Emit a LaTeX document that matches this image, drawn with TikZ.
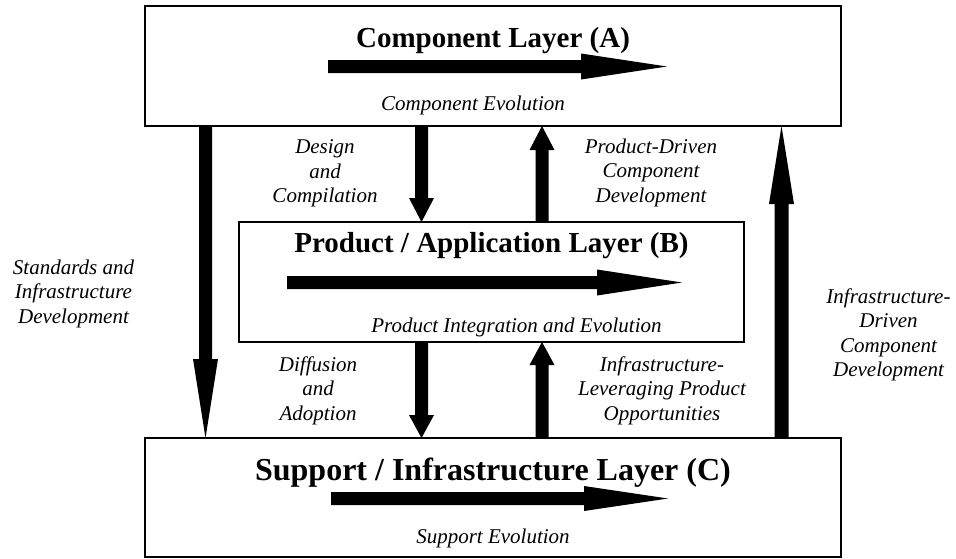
\documentclass[tikz,border=0pt]{standalone}
\usepackage{fontspec}
\setmainfont{Liberation Serif}
\usetikzlibrary{calc}
\tikzset{
  layer/.style={draw, line width=1.2pt, rectangle, inner sep=0pt, outer sep=0pt},
  ttl/.style={font=\fontsize{29}{33}\selectfont\bfseries, anchor=base, inner sep=0pt},
  lbl/.style={font=\fontsize{21}{24.5}\selectfont\itshape, align=center, inner sep=0pt},
}
% #1 start, #2 tip, #3 half shaft width, #4 head length, #5 half head width
\newcommand\fatarrow[5]{%
  \coordinate (hb) at ($(#2)!#4!(#1)$);
  \fill ($(#1)!#3!90:(#2)$) -- ($(hb)!#3!90:(#2)$) -- ($(hb)!#5!90:(#2)$) -- (#2)
        -- ($(hb)!#5!-90:(#2)$) -- ($(hb)!#3!-90:(#2)$) -- ($(#1)!#3!-90:(#2)$) -- cycle;
}
\begin{document}
\begin{tikzpicture}[x=1pt,y=-1pt]
\useasboundingbox (0,0) rectangle (956,558);
% layers
\node[layer, minimum width=696pt, minimum height=120pt] (A) at (493,66) {};
\node[layer, minimum width=505pt, minimum height=120pt] (B) at (491.5,282) {};
\node[layer, minimum width=696pt, minimum height=119pt] (C) at (493,497.5) {};
% titles
\node[ttl] (tA) at (493,47) {Component Layer (A)};
\node[ttl] (tB) at (491.5,252) {Product / Application Layer (B)};
\node[ttl, font=\fontsize{32}{36}\selectfont\bfseries] (tC) at (493,480) {Support / Infrastructure Layer (C)};
% evolution labels
\node[lbl, anchor=base] (eA) at (473,110) {Component Evolution};
\node[lbl, anchor=base] (eB) at (516.5,332) {Product Integration and Evolution};
\node[lbl, anchor=base] (eC) at (493,543) {Support Evolution};
% horizontal evolution arrows
\coordinate (a1) at (328,66.5); \coordinate (a2) at (667,66.5);
\fatarrow{a1}{a2}{6.5pt}{86pt}{13pt}
\coordinate (b1) at (287,282.5); \coordinate (b2) at (682,282.5);
\fatarrow{b1}{b2}{6.5pt}{85pt}{13pt}
\coordinate (c1) at (331,498.5); \coordinate (c2) at (668,498.5);
\fatarrow{c1}{c2}{6.5pt}{84pt}{12.5pt}
% vertical arrows
\coordinate (sL1) at ([xshift=60.5pt]A.south west);
\coordinate (sL2) at ([xshift=60.5pt]C.north west);
\fatarrow{sL1}{sL2}{6.5pt}{79pt}{12.5pt}
\coordinate (sR1) at ([xshift=636.5pt]C.north west);
\coordinate (sR2) at ([xshift=636.5pt]A.south west);
\fatarrow{sR1}{sR2}{7pt}{78pt}{12.5pt}
\coordinate (d1) at ([xshift=276.5pt]A.south west);
\coordinate (d2) at ([xshift=182.5pt]B.north west);
\fatarrow{d1}{d2}{6.5pt}{24pt}{12.5pt}
\coordinate (p1) at ([xshift=303pt]B.north west);
\coordinate (p2) at ([xshift=397pt]A.south west);
\fatarrow{p1}{p2}{6.5pt}{24pt}{12.5pt}
\coordinate (f1) at ([xshift=182.5pt]B.south west);
\coordinate (f2) at ([xshift=276.5pt]C.north west);
\fatarrow{f1}{f2}{6.5pt}{23pt}{12.5pt}
\coordinate (g1) at ([xshift=397pt]C.north west);
\coordinate (g2) at ([xshift=303pt]B.south west);
\fatarrow{g1}{g2}{6.5pt}{23pt}{12.5pt}
% connector labels
\node[lbl] (lDes) at (325,173.5) {Design\\and\\Compilation};
\node[lbl] (lPD) at (651,172.5) {Product-Driven\\Component\\Development};
\node[lbl] (lStd) at (73.5,293.5) {Standards and\\Infrastructure\\Development};
\node[lbl] (lID) at (888.5,335) {Infrastructure-\\Driven\\Component\\Development};
\node[lbl] (lDif) at (318,390.5) {Diffusion\\and\\Adoption};
\node[lbl] (lIL) at (662,390.5) {Infrastructure-\\Leveraging Product\\Opportunities};
\end{tikzpicture}
\end{document}
